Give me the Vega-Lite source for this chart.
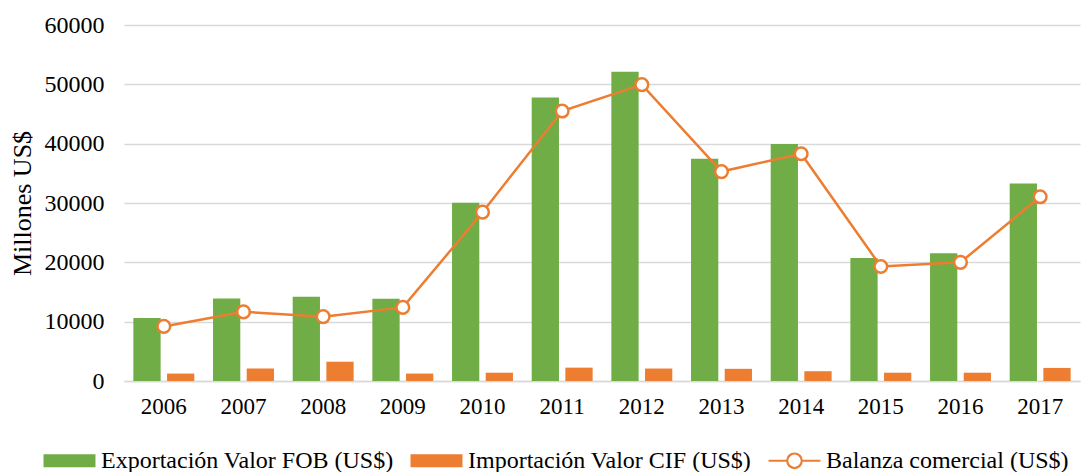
{
  "$schema": "https://vega.github.io/schema/vega-lite/v6.json",
  "width": 956,
  "height": 356,
  "autosize": {"type": "none"},
  "padding": {"left": 124, "top": 25, "right": 1, "bottom": 91},
  "background": "white",
  "config": {
    "view": {"stroke": null},
    "font": "Liberation Serif"
  },
  "data": {
    "values": [
      {"year": "2006", "series": "Exportación Valor FOB (US$)", "value": 10600},
      {"year": "2007", "series": "Exportación Valor FOB (US$)", "value": 13900},
      {"year": "2008", "series": "Exportación Valor FOB (US$)", "value": 14200},
      {"year": "2009", "series": "Exportación Valor FOB (US$)", "value": 13850},
      {"year": "2010", "series": "Exportación Valor FOB (US$)", "value": 30050},
      {"year": "2011", "series": "Exportación Valor FOB (US$)", "value": 47800},
      {"year": "2012", "series": "Exportación Valor FOB (US$)", "value": 52100},
      {"year": "2013", "series": "Exportación Valor FOB (US$)", "value": 37450},
      {"year": "2014", "series": "Exportación Valor FOB (US$)", "value": 39950},
      {"year": "2015", "series": "Exportación Valor FOB (US$)", "value": 20750},
      {"year": "2016", "series": "Exportación Valor FOB (US$)", "value": 21550},
      {"year": "2017", "series": "Exportación Valor FOB (US$)", "value": 33300},
      {"year": "2006", "series": "Importación Valor CIF (US$)", "value": 1250},
      {"year": "2007", "series": "Importación Valor CIF (US$)", "value": 2100},
      {"year": "2008", "series": "Importación Valor CIF (US$)", "value": 3250},
      {"year": "2009", "series": "Importación Valor CIF (US$)", "value": 1250},
      {"year": "2010", "series": "Importación Valor CIF (US$)", "value": 1400},
      {"year": "2011", "series": "Importación Valor CIF (US$)", "value": 2250},
      {"year": "2012", "series": "Importación Valor CIF (US$)", "value": 2100},
      {"year": "2013", "series": "Importación Valor CIF (US$)", "value": 2050},
      {"year": "2014", "series": "Importación Valor CIF (US$)", "value": 1650},
      {"year": "2015", "series": "Importación Valor CIF (US$)", "value": 1400},
      {"year": "2016", "series": "Importación Valor CIF (US$)", "value": 1400},
      {"year": "2017", "series": "Importación Valor CIF (US$)", "value": 2200},
      {"year": "2006", "series": "Balanza comercial (US$)", "value": 9200},
      {"year": "2007", "series": "Balanza comercial (US$)", "value": 11650},
      {"year": "2008", "series": "Balanza comercial (US$)", "value": 10850},
      {"year": "2009", "series": "Balanza comercial (US$)", "value": 12400},
      {"year": "2010", "series": "Balanza comercial (US$)", "value": 28450},
      {"year": "2011", "series": "Balanza comercial (US$)", "value": 45500},
      {"year": "2012", "series": "Balanza comercial (US$)", "value": 49950},
      {"year": "2013", "series": "Balanza comercial (US$)", "value": 35300},
      {"year": "2014", "series": "Balanza comercial (US$)", "value": 38300},
      {"year": "2015", "series": "Balanza comercial (US$)", "value": 19300},
      {"year": "2016", "series": "Balanza comercial (US$)", "value": 20000},
      {"year": "2017", "series": "Balanza comercial (US$)", "value": 31050}
    ]
  },
  "encoding": {
    "x": {
      "field": "year",
      "type": "nominal",
      "title": null,
      "scale": {"paddingInner": 0.235, "paddingOuter": 0.1175},
      "axis": {
        "labelAngle": 0,
        "labelFont": "Liberation Serif",
        "labelFontSize": 23,
        "labelColor": "#000000",
        "labelPadding": 14,
        "ticks": false,
        "domainColor": "#d9d9d9",
        "domainWidth": 1.5,
        "grid": false
      }
    },
    "y": {
      "field": "value",
      "type": "quantitative",
      "title": "Millones US$",
      "scale": {"domain": [0, 60000], "nice": false},
      "axis": {
        "values": [0, 10000, 20000, 30000, 40000, 50000, 60000],
        "format": "d",
        "labelFont": "Liberation Serif",
        "labelFontSize": 24,
        "labelColor": "#000000",
        "labelPadding": 20,
        "ticks": false,
        "domain": false,
        "gridColor": "#d9d9d9",
        "gridWidth": 1.5,
        "titleFont": "Liberation Serif",
        "titleFontSize": 26,
        "titleFontWeight": "normal",
        "titleColor": "#000000",
        "titlePadding": 9
      }
    }
  },
  "layer": [
    {
      "transform": [{"filter": "datum.series !== 'Balanza comercial (US$)'"}],
      "mark": {"type": "bar"},
      "encoding": {
        "xOffset": {
          "field": "series",
          "type": "nominal",
          "sort": ["Exportación Valor FOB (US$)", "Importación Valor CIF (US$)"],
          "scale": {"paddingInner": 0.19, "paddingOuter": 0}
        },
        "color": {
          "field": "series",
          "type": "nominal",
          "scale": {
            "domain": ["Exportación Valor FOB (US$)", "Importación Valor CIF (US$)", "Balanza comercial (US$)"],
            "range": ["#70ad47", "#ed7d31", "#ed7d31"]
          },
          "legend": {
            "orient": "none",
            "direction": "horizontal",
            "legendX": -82,
            "legendY": 408,
            "title": null,
            "labelFont": "Liberation Serif",
            "labelFontSize": 24,
            "labelColor": "#000000",
            "labelOffset": 4,
            "columnPadding": 12,
            "symbolSize": 2700,
            "symbolStrokeWidth": 2,
            "labelLimit": 400,
            "encode": {
              "symbols": {
                "update": {
                  "shape": [
                    {"test": "datum.value === 'Balanza comercial (US$)'", "value": "M-1,0L-0.28,0M0.28,0L1,0M-0.28,0A0.28,0.28 0 1,0 0.28,0A0.28,0.28 0 1,0 -0.28,0Z"},
                    {"value": "M-1,-0.25L1,-0.25L1,0.25L-1,0.25Z"}
                  ],
                  "fillOpacity": [
                    {"test": "datum.value === 'Balanza comercial (US$)'", "value": 0},
                    {"value": 1}
                  ],
                  "stroke": [
                    {"test": "datum.value === 'Balanza comercial (US$)'", "value": "#ed7d31"},
                    {"value": "transparent"}
                  ],
                  "strokeWidth": {"value": 2.2},
                  "opacity": {"value": 1}
                }
              }
            }
          }
        }
      }
    },
    {
      "transform": [{"filter": "datum.series === 'Balanza comercial (US$)'"}],
      "mark": {"type": "line", "color": "#ed7d31", "strokeWidth": 2.5},
      "encoding": {}
    },
    {
      "transform": [{"filter": "datum.series === 'Balanza comercial (US$)'"}],
      "mark": {"type": "point", "shape": "circle", "filled": true, "fill": "#ffffff", "stroke": "#ed7d31", "strokeWidth": 2.5, "size": 160, "opacity": 1},
      "encoding": {}
    }
  ]
}
